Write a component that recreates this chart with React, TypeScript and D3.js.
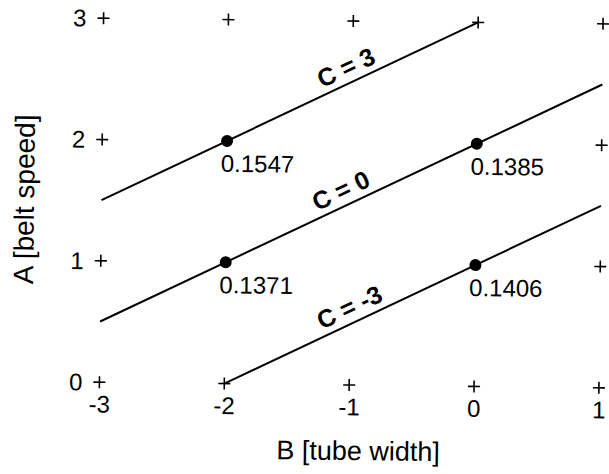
import React from 'react';
import * as d3 from 'd3';

// design levels
const bLevels = [-3, -2, -1, 0, 1];
const aLevels = [0, 1, 2, 3];

// "+" markers on the outer ring of the design region [B, A]
const markerPoints: [number, number][] = [
  [-3, 3], [-2, 3], [-1, 3], [0, 3], [1, 3],
  [-3, 2], [1, 2],
  [-3, 1], [1, 1],
  [-3, 0], [-2, 0], [-1, 0], [0, 0], [1, 0],
];

// contour lines of constant C
const contourLabels = ['C = 3', 'C = 0', 'C = -3'];
const contourStart: [number, number][] = [[-3, 1.5], [-3, 0.5], [-2, 0]];
const contourEnd: [number, number][] = [[0, 3], [1, 2.5], [1, 1.5]];
const contourLabelB = [-1.0, -1.03, -0.95];

// measured points
const pointB = [-2, 0, -2, 0];
const pointA = [2, 2, 1, 1];
const pointValues = ['0.1547', '0.1385', '0.1371', '0.1406'];

const W = 609, H = 474;
const FONT = '"Liberation Sans", Arial, Helvetica, sans-serif';

export default function App() {
  const x = d3.scaleLinear().domain([-3, 1]).range([101.5, 601]);
  const y = d3.scaleLinear().domain([0, 3]).range([385, 21]);
  const line = d3.line<[number, number]>().x(d => x(d[0])).y(d => y(d[1]));
  const angle = Math.atan2(y(1) - y(0), x(2) - x(0)) * 180 / Math.PI; // slope 0.5 in pixels

  return (
    <svg width={W} height={H} style={{ position: 'absolute', left: 0, top: 0, background: '#fff' }}
      fontFamily={FONT}>
      <g transform="rotate(0.65, 350, 202)">
        {/* grid markers */}
        {markerPoints.map(([b, a]) => (
          <g key={`${b}_${a}`} stroke="#000" strokeWidth={1.6}>
            <line x1={x(b) - 6} x2={x(b) + 6} y1={y(a)} y2={y(a)} />
            <line x1={x(b)} x2={x(b)} y1={y(a) - 6} y2={y(a) + 6} />
          </g>
        ))}

        {/* y tick labels */}
        {aLevels.map(a => (
          <text key={`ya${a}`} x={x(-3) - 17} y={y(a)} dy="0.35em" textAnchor="end" fontSize={24}>{a}</text>
        ))}
        {/* x tick labels */}
        {bLevels.map(b => (
          <text key={`xb${b}`} x={x(b)} y={y(0) + 22} dy="0.35em" textAnchor="middle" fontSize={24}>{b}</text>
        ))}

        {/* contour lines */}
        {contourLabels.map((lab, i) => {
          const [b0, a0] = contourStart[i];
          const [b1, a1] = contourEnd[i];
          const lb = contourLabelB[i];
          const la = a0 + (a1 - a0) * (lb - b0) / (b1 - b0);
          return (
            <g key={lab}>
              <path d={line([contourStart[i], contourEnd[i]]) || ''} fill="none" stroke="#000" strokeWidth={2} />
              <text transform={`translate(${x(lb)},${y(la)}) rotate(${angle})`} y={-7}
                textAnchor="middle" fontSize={25} fontWeight="bold">{lab}</text>
            </g>
          );
        })}

        {/* points with values */}
        {pointValues.map((v, i) => (
          <g key={v}>
            <circle cx={x(pointB[i])} cy={y(pointA[i])} r={6} fill="#000" />
            <text x={x(pointB[i]) - 6} y={y(pointA[i]) + 31} fontSize={24}>{v}</text>
          </g>
        ))}

        {/* axis titles */}
        <text x={361} y={460} textAnchor="middle" fontSize={27}>B [tube width]</text>
        <text transform={`translate(34,${(y(0) + y(3)) / 2}) rotate(-90)`} textAnchor="middle" fontSize={28}>A [belt speed]</text>
      </g>
    </svg>
  );
}
